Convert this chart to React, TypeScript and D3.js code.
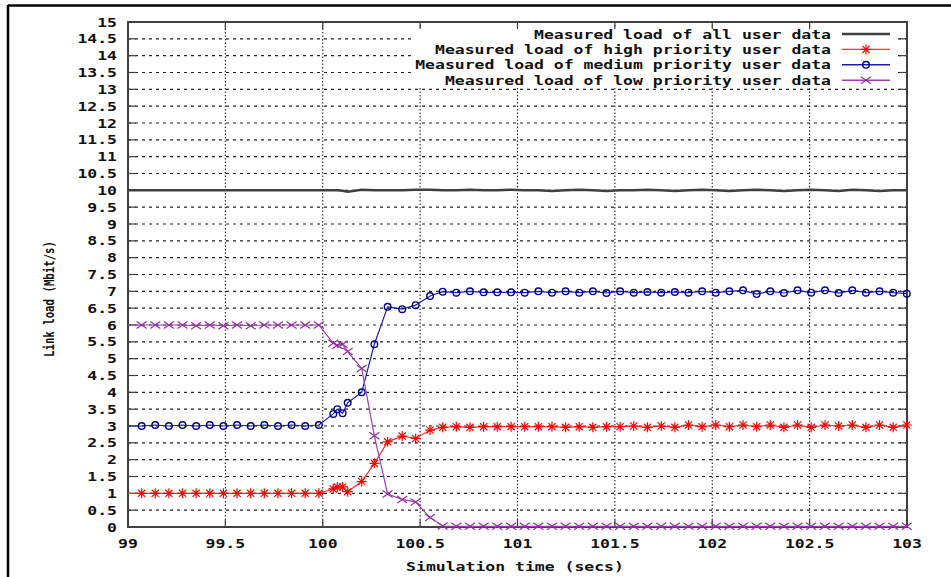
import React, { useEffect, useRef } from 'react';
import * as d3 from 'd3';

// sample times (secs)
const times = [
  98.93, 99.07, 99.14, 99.21, 99.28, 99.35, 99.42, 99.49, 99.56, 99.63, 99.70, 99.77, 99.84, 99.91, 99.98,
  100.054, 100.075, 100.102, 100.128, 100.20, 100.265, 100.333, 100.408, 100.477, 100.551, 100.616,
  100.686, 100.756, 100.826, 100.896, 100.967, 101.037, 101.107, 101.177, 101.247, 101.317, 101.387, 101.457,
  101.527, 101.597, 101.667, 101.738, 101.808, 101.878, 101.948, 102.018, 102.088, 102.158, 102.228, 102.298,
  102.368, 102.438, 102.508, 102.579, 102.649, 102.719, 102.789, 102.859, 102.929, 102.999,
];

const totalLoad = [
  10, 10, 10, 10, 10, 10, 10, 10, 10, 10, 10, 10, 10, 10, 10,
  10, 10, 9.99, 9.96, 10.02, 10, 10, 10, 10.02, 10.02, 10,
  10, 10.02, 10, 10, 10.02, 10, 10, 9.98, 10, 10.02, 10, 9.98,
  10, 10, 10.02, 10, 9.98, 10, 10.02, 10, 9.98, 10, 10.02, 10,
  9.98, 10, 10.02, 10, 9.98, 10.02, 10, 9.98, 10, 10,
];

const highLoad = [
  1, 1, 1, 1, 1, 1, 1, 1, 1, 1, 1, 1, 1, 1, 1,
  1.13, 1.19, 1.19, 1.05, 1.35, 1.89, 2.53, 2.7, 2.63, 2.88, 2.96,
  2.98, 2.96, 2.98, 2.98, 2.98, 2.98, 2.98, 2.98, 2.96, 2.98, 2.96, 2.98,
  2.98, 3.0, 2.96, 3.0, 2.96, 3.03, 2.98, 3.03, 2.98, 3.03, 2.98, 3.03,
  2.96, 3.03, 2.96, 3.03, 3.0, 3.03, 2.96, 3.03, 2.96, 3.03,
];

const mediumLoad = [
  3, 3, 3.03, 3, 3.03, 3, 3.03, 3, 3.03, 3, 3.03, 3, 3.03, 3, 3.03,
  3.36, 3.5, 3.38, 3.69, 4.0, 5.43, 6.54, 6.47, 6.59, 6.86, 6.99,
  6.96, 7.0, 6.97, 6.97, 6.97, 6.96, 7.0, 6.96, 7.0, 6.96, 7.0, 6.95,
  7.0, 6.96, 6.98, 6.96, 6.98, 6.96, 7.0, 6.96, 7.0, 7.03, 6.92, 7.0,
  6.95, 7.03, 6.96, 7.03, 6.95, 7.03, 6.96, 7.0, 6.96, 6.93,
];

const lowLoad = [
  6, 6, 6, 6, 6, 5.98, 6, 5.98, 6, 5.98, 6, 6, 6, 6, 6,
  5.46, 5.4, 5.43, 5.21, 4.71, 2.71, 0.98, 0.82, 0.74, 0.28, 0.03,
  0.02, 0.02, 0.02, 0.02, 0.02, 0.02, 0.02, 0.02, 0.02, 0.02, 0.02, 0.02,
  0.02, 0.02, 0.02, 0.02, 0.02, 0.02, 0.02, 0.02, 0.02, 0.02, 0.02, 0.02,
  0.02, 0.02, 0.02, 0.02, 0.02, 0.02, 0.02, 0.02, 0.02, 0.02,
];

const xTicks = [99, 99.5, 100, 100.5, 101, 101.5, 102, 102.5, 103];
const yTicks = [0, 0.5, 1, 1.5, 2, 2.5, 3, 3.5, 4, 4.5, 5, 5.5, 6, 6.5, 7, 7.5, 8, 8.5, 9, 9.5,
  10, 10.5, 11, 11.5, 12, 12.5, 13, 13.5, 14, 14.5, 15];

const legendLabels = [
  'Measured load of all user data',
  'Measured load of high priority user data',
  'Measured load of medium priority user data',
  'Measured load of low priority user data',
];

const W = 951;
const H = 577;
const FONT = '"DejaVu Sans Mono", "Liberation Mono", monospace';
const CHAR_W = 9.9;

function App() {
  const ref = useRef(null);

  useEffect(() => {
    drawChart();
  });

  function drawChart() {
    const svg = d3.select(ref.current);
    svg.selectAll('*').remove();

    const x = d3.scaleLinear().domain([99, 103]).range([128, 907]);
    const y = d3.scaleLinear().domain([0, 15]).range([527, 22]);
    const [x0, x1] = x.range();
    const [y0, y1] = y.range();

    const series = [
      { label: legendLabels[0], values: totalLoad, line: '#404040', mark: null, width: 2.5 },
      { label: legendLabels[1], values: highLoad, line: '#ff3030', mark: '#ff0000', shape: 'star', width: 1.2 },
      { label: legendLabels[2], values: mediumLoad, line: '#1c1ca8', mark: '#000088', shape: 'circle', width: 1.2 },
      { label: legendLabels[3], values: lowLoad, line: '#a040b0', mark: '#9030a0', shape: 'cross', width: 1.2 },
    ];

    // outer frame (only top/left visible)
    svg.append('line').attr('x1', 8).attr('x2', W).attr('y1', 5.5).attr('y2', 5.5)
      .attr('stroke', '#000').attr('stroke-width', 2.5);
    svg.append('line').attr('x1', 8).attr('x2', 8).attr('y1', 5).attr('y2', H)
      .attr('stroke', '#000').attr('stroke-width', 2.5);

    // grid
    const grid = svg.append('g').attr('stroke', '#222').attr('stroke-width', 1.1);
    yTicks.filter((t) => t > 0 && t < 15).forEach((t) => {
      grid.append('line').attr('x1', x0).attr('x2', x1).attr('y1', y(t)).attr('y2', y(t))
        .attr('stroke-dasharray', '3,4');
    });
    xTicks.filter((t) => t > 99 && t < 103).forEach((t) => {
      grid.append('line').attr('x1', x(t)).attr('x2', x(t)).attr('y1', y0).attr('y2', y1)
        .attr('stroke-dasharray', '1.5,2');
    });

    // legend background hides the grid behind it
    svg.append('rect').attr('x', 414).attr('y', 27).attr('width', 484).attr('height', 61)
      .attr('fill', '#fff');

    // ticks
    const ticks = svg.append('g').attr('stroke', '#404040').attr('stroke-width', 1.2);
    yTicks.forEach((t) => {
      ticks.append('line').attr('x1', x0).attr('x2', x0 + 8).attr('y1', y(t)).attr('y2', y(t));
      ticks.append('line').attr('x1', x1).attr('x2', x1 - 8).attr('y1', y(t)).attr('y2', y(t));
    });
    xTicks.forEach((t) => {
      ticks.append('line').attr('x1', x(t)).attr('x2', x(t)).attr('y1', y0).attr('y2', y0 - 7);
      ticks.append('line').attr('x1', x(t)).attr('x2', x(t)).attr('y1', y1).attr('y2', y1 + 7);
    });

    // tick labels
    const fmt = d3.format('~g');
    const tl = svg.append('g').attr('font-family', FONT).attr('font-weight', 'bold')
      .attr('font-size', 13).attr('fill', '#111');
    yTicks.forEach((t) => {
      const s = fmt(t);
      tl.append('text').attr('x', 117).attr('y', y(t)).attr('text-anchor', 'end')
        .attr('dominant-baseline', 'central')
        .attr('textLength', s.length * CHAR_W).attr('lengthAdjust', 'spacingAndGlyphs').text(s);
    });
    xTicks.forEach((t) => {
      const s = fmt(t);
      tl.append('text').attr('x', x(t)).attr('y', 543).attr('text-anchor', 'middle')
        .attr('dominant-baseline', 'central')
        .attr('textLength', s.length * CHAR_W).attr('lengthAdjust', 'spacingAndGlyphs').text(s);
    });

    // axis titles
    const xt = 'Simulation time (secs)';
    tl.append('text').attr('x', 515).attr('y', 566).attr('text-anchor', 'middle')
      .attr('dominant-baseline', 'central')
      .attr('textLength', xt.length * CHAR_W).attr('lengthAdjust', 'spacingAndGlyphs').text(xt);
    svg.append('text')
      .attr('transform', 'translate(49, 299) rotate(-90)')
      .attr('text-anchor', 'middle').attr('dominant-baseline', 'central')
      .attr('font-family', FONT).attr('font-weight', 'bold').attr('font-size', 14.5).attr('fill', '#111')
      .attr('textLength', 116).attr('lengthAdjust', 'spacingAndGlyphs')
      .text('Link load (Mbit/s)');

    // plot border
    svg.append('rect').attr('x', x0).attr('y', y1).attr('width', x1 - x0).attr('height', y0 - y1)
      .attr('fill', 'none').attr('stroke', '#404040').attr('stroke-width', 2);

    svg.append('clipPath').attr('id', 'plot-clip').append('rect')
      .attr('x', x0).attr('y', y1).attr('width', x1 - x0).attr('height', y0 - y1);

    const markerPath = (shape) => {
      if (shape === 'star') return 'M-5,0H5M0,-5V5M-3.6,-3.6L3.6,3.6M-3.6,3.6L3.6,-3.6';
      if (shape === 'cross') return 'M-5,-3.5L5,3.5M-5,3.5L5,-3.5';
      return null;
    };
    const drawMarker = (g, s, cx, cy) => {
      if (s.shape === 'circle') {
        g.append('circle').attr('cx', cx).attr('cy', cy).attr('r', 3.3)
          .attr('fill', 'none').attr('stroke', s.mark).attr('stroke-width', 1.4);
      } else {
        g.append('path').attr('d', markerPath(s.shape))
          .attr('transform', `translate(${cx},${cy})`)
          .attr('fill', 'none').attr('stroke', s.mark).attr('stroke-width', 1.2);
      }
    };

    const line = d3.line().x((d, i) => x(times[i])).y((d) => y(d));

    series.forEach((s) => {
      svg.append('path').attr('d', line(s.values)).attr('clip-path', 'url(#plot-clip)')
        .attr('fill', 'none').attr('stroke', s.line).attr('stroke-width', s.width);
      if (s.mark) {
        const g = svg.append('g');
        s.values.forEach((v, i) => {
          if (times[i] < 99) return;
          drawMarker(g, s, x(times[i]), y(v));
        });
      }
    });

    // legend
    const lg = svg.append('g');
    series.forEach((s, i) => {
      const ly = 34 + i * 15.4;
      lg.append('text').attr('x', 831).attr('y', ly).attr('text-anchor', 'end')
        .attr('dominant-baseline', 'central')
        .attr('font-family', FONT).attr('font-weight', 'bold').attr('font-size', 13).attr('fill', '#111')
        .attr('textLength', s.label.length * CHAR_W).attr('lengthAdjust', 'spacingAndGlyphs')
        .text(s.label);
      lg.append('line').attr('x1', 842).attr('x2', 890).attr('y1', ly).attr('y2', ly)
        .attr('stroke', s.line).attr('stroke-width', s.mark ? 1.4 : 2.5);
      if (s.mark) drawMarker(lg, s, 866, ly);
    });
  }

  return (
    <svg ref={ref} width={W} height={H}
      style={{ position: 'absolute', left: 0, top: 0, background: '#fff' }} />
  );
}

export default App;
